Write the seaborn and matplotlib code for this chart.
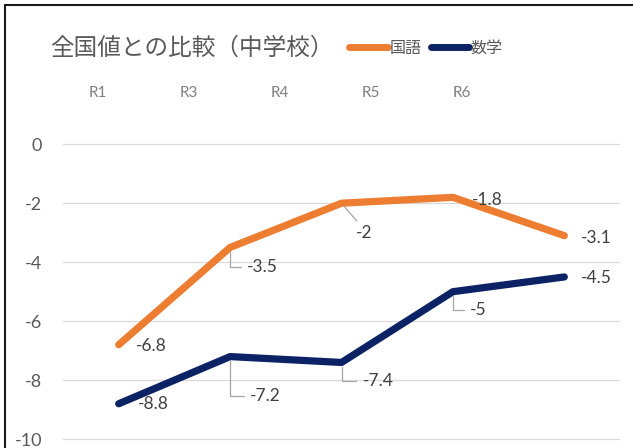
import matplotlib
matplotlib.use("Agg")
import matplotlib.pyplot as plt
import seaborn as sns
import pandas as pd
from matplotlib.lines import Line2D

years = ["R1", "R3", "R4", "R5", "R6"]
kokugo = [-6.8, -3.5, -2, -1.8, -3.1]
sugaku = [-8.8, -7.2, -7.4, -5, -4.5]
yticks = [0, -2, -4, -6, -8, -10]

colors = {"国語": "#ED7D31", "数学": "#0B2265"}

# label offsets in pixels (dx, dy) and whether a leader line is drawn
kokugo_lbl = [(17, -1, None), (17, -20, "L"), (14, -30, "D"), (19, -3, None), (17, -2, None)]
sugaku_lbl = [(19, 0, None), (20, -39, "L"), (21, -19, "L"), (17, -18, "L"), (17, -1, None)]

sns.set_theme(style="white")
plt.rcParams["font.family"] = ["Noto Sans CJK JP", "DejaVu Sans"]
num_font = ["Lato", "DejaVu Sans"]

df = pd.DataFrame({"x": list(range(len(years))) * 2,
                   "value": kokugo + sugaku,
                   "subject": ["国語"] * len(years) + ["数学"] * len(years)})

W, H = 633, 448
fig = plt.figure(figsize=(W / 100, H / 100), dpi=100)
ax = fig.add_axes([63 / W, 0, 557 / W, 348 / H])

sns.lineplot(data=df, x="x", y="value", hue="subject", palette=colors, ax=ax,
             lw=5.2, legend=False, solid_capstyle="round", solid_joinstyle="round")

ax.set_xlim(-0.5, 4.5)
ax.set_ylim(-10.3, 1.5)
ax.set_xticks([])
ax.set_xlabel("")
ax.set_ylabel("")
for v in yticks:
    ax.axhline(v, color="#d9d9d9", lw=0.9, zorder=0)
for s in ax.spines.values():
    s.set_visible(False)

# category labels at top
ax2 = ax.twiny()
ax2.set_xlim((63 - 98) / 91, (620 - 98) / 91)
ax2.set_xticks(range(len(years)))
ax2.set_xticklabels(years, fontsize=11, color="#7f7f7f", family=num_font)
ax2.tick_params(axis="x", length=0, pad=0)
for s in ax2.spines.values():
    s.set_visible(False)

ax.set_yticks(yticks)
ax.set_yticklabels([str(v) for v in yticks], fontsize=13, color="#595959", family=num_font)
ax.tick_params(axis="y", length=0, pad=15, left=False, labelleft=True)

def label(series, offsets):
    for i, (v, (dx, dy, kind)) in enumerate(zip(series, offsets)):
        kw = {}
        if kind == "L":
            kw["arrowprops"] = dict(arrowstyle="-", color="#a6a6a6", lw=0.9,
                                    shrinkA=2, shrinkB=3, relpos=(0, 0.5),
                                    connectionstyle="angle,angleA=0,angleB=90,rad=0")
        elif kind == "D":
            kw["arrowprops"] = dict(arrowstyle="-", color="#a6a6a6", lw=0.9,
                                    shrinkA=1, shrinkB=3, relpos=(0.3, 1))
        ax.annotate(f"{v:g}", (i, v), xytext=(dx, dy), textcoords="offset pixels",
                    ha="left", va="center", fontsize=12.5, color="#404040",
                    family=num_font, **kw)

label(kokugo, kokugo_lbl)
label(sugaku, sugaku_lbl)

fig.text(50 / W, 1 - 48 / H, "全国値との比較（中学校）", fontsize=17,
         color="#595959", ha="left", va="center")

handles = [Line2D([], [], color=colors[k], lw=5, solid_capstyle="round") for k in colors]
fig.legend(handles, list(colors), loc="center left", bbox_to_anchor=(335 / W, 1 - 48 / H),
           frameon=False, fontsize=11.5, handlelength=2.4, handletextpad=0.1,
           columnspacing=0.6, ncol=2, labelcolor="#595959")

# outer frame (top and left visible in the crop)
fig.add_artist(Line2D([5 / W, 1], [1 - 5 / H, 1 - 5 / H], color="#1a1a1a", lw=1.5,
                      transform=fig.transFigure))
fig.add_artist(Line2D([5 / W, 5 / W], [0, 1 - 5 / H], color="#1a1a1a", lw=1.5,
                      transform=fig.transFigure))

fig.savefig("out.png", dpi=100)
